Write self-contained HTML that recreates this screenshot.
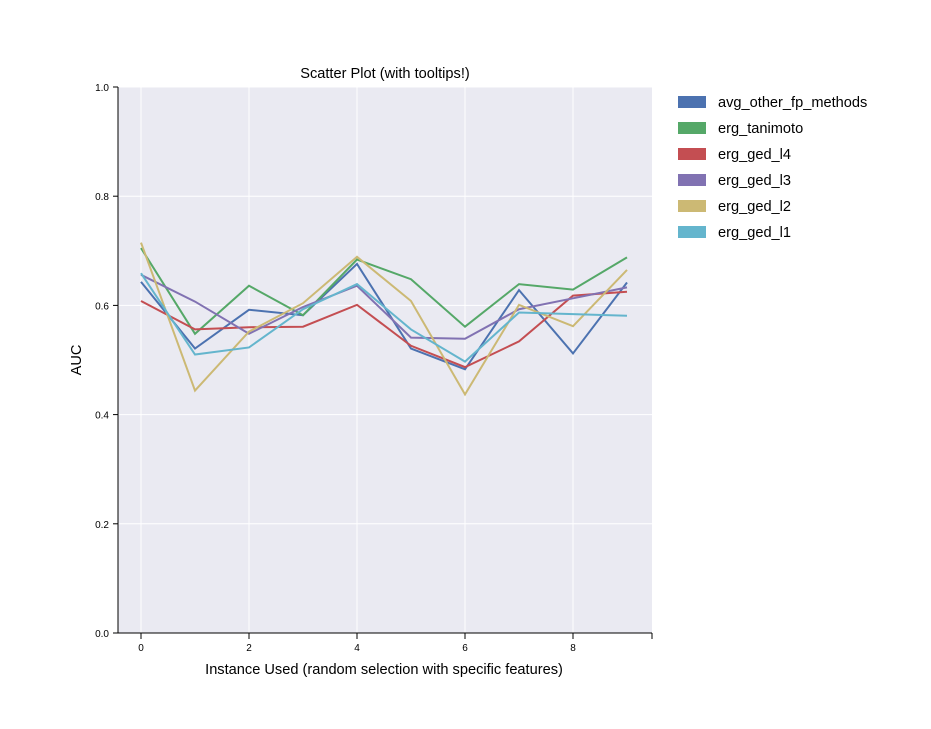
<!DOCTYPE html>
<html><head><meta charset="utf-8"><style>
body{margin:0;background:#fff;font-family:"Liberation Sans",sans-serif}
svg text{font-family:"Liberation Sans",sans-serif}
</style></head><body>
<svg id="chart" width="931" height="724" xmlns="http://www.w3.org/2000/svg">
<rect x="118" y="87" width="534" height="546" fill="#eaeaf2"/>
<g id="grid"></g><g id="lines"></g><g id="axes"></g><g id="legend"></g>
<text x="385" y="78" text-anchor="middle" font-size="14.6">Scatter Plot (with tooltips!)</text>
<text x="384" y="674" text-anchor="middle" font-size="14.6">Instance Used (random selection with specific features)</text>
<text x="81" y="360" text-anchor="middle" font-size="14.6" transform="rotate(-90 81 360)">AUC</text>
</svg>
<script>
const xValues=[0,1,2,3,4,5,6,7,8,9];
const seriesNames=["avg_other_fp_methods","erg_tanimoto","erg_ged_l4","erg_ged_l3","erg_ged_l2","erg_ged_l1"];
const seriesColors=["#4c72b0","#55a868","#c44e52","#8172b2","#ccb974","#64b5cd"];
const avgOther=[0.643,0.521,0.592,0.582,0.676,0.521,0.483,0.628,0.512,0.642];
const ergTanimoto=[0.705,0.548,0.636,0.582,0.684,0.648,0.561,0.639,0.629,0.688];
const ergL4=[0.608,0.556,0.560,0.561,0.601,0.526,0.487,0.534,0.618,0.625];
const ergL3=[0.656,0.607,0.548,0.597,0.636,0.541,0.539,0.593,0.613,0.633];
const ergL2=[0.715,0.444,0.552,0.604,0.689,0.608,0.437,0.601,0.562,0.665];
const ergL1=[0.659,0.510,0.523,0.593,0.639,0.556,0.497,0.587,0.584,0.581];
const yTicks=[0,0.2,0.4,0.6,0.8,1.0];
const xTicks=[0,2,4,6,8];
const allSeries=[avgOther,ergTanimoto,ergL4,ergL3,ergL2,ergL1];
const NS="http://www.w3.org/2000/svg";
const X=v=>141+v*54, Y=v=>633-v*546;
function mk(t,a,p){const e=document.createElementNS(NS,t);for(const k in a)e.setAttribute(k,a[k]);p.appendChild(e);return e;}
const grid=document.getElementById('grid'),axes=document.getElementById('axes'),lines=document.getElementById('lines'),legend=document.getElementById('legend');
yTicks.forEach(t=>{
 const g=mk('line',{x1:118,x2:652,y1:Y(t),y2:Y(t),stroke:'#fff','stroke-width':1},grid);
 
 
 mk('line',{x1:113,x2:118,y1:Y(t),y2:Y(t),stroke:'#000'},axes);
 const l=mk('text',{x:109,y:Y(t)+4,'text-anchor':'end','font-size':10},axes);l.textContent=t.toFixed(1);
 
 
});
xTicks.forEach(t=>{
 const g=mk('line',{x1:X(t),x2:X(t),y1:87,y2:633,stroke:'#fff','stroke-width':1},grid);
 
 
 mk('line',{x1:X(t),x2:X(t),y1:633,y2:639,stroke:'#000'},axes);
 const l=mk('text',{x:X(t),y:651,'text-anchor':'middle','font-size':10},axes);l.textContent=t;
 
 
});
mk('line',{x1:118,x2:118,y1:87,y2:633,stroke:'#000'},axes);
mk('line',{x1:118,x2:652,y1:633,y2:633,stroke:'#000'},axes);
mk('line',{x1:652,x2:652,y1:633,y2:639,stroke:'#000'},axes);
allSeries.forEach((s,i)=>{
 const p=mk('polyline',{points:s.map((v,j)=>X(xValues[j])+','+Y(v)).join(' '),fill:'none',stroke:seriesColors[i],'stroke-width':2},lines);
 
 
 const r=mk('rect',{x:678,y:96+i*26,width:28,height:12,fill:seriesColors[i]},legend);
 
 
 const t=mk('text',{x:718,y:107+i*26,'font-size':14.6},legend);t.textContent=seriesNames[i];
 
 
});
</script>
</body></html>
